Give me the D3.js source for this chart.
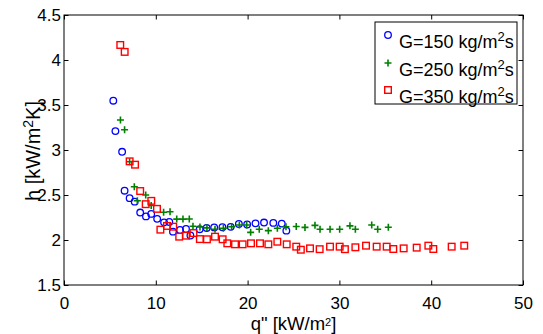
<!DOCTYPE html>
<html>
<head>
<meta charset="utf-8">
<script src="https://cdn.jsdelivr.net/npm/d3@7"></script>
<style>
  html, body { margin: 0; padding: 0; background: #fff; }
  svg { display: block; font-family: "Liberation Sans", Arial, Helvetica, sans-serif; }
</style>
</head>
<body>
<svg id="chart" width="543" height="334"></svg>
<script>
// Heat transfer coefficient h [kW/m²K] versus heat flux q" [kW/m²]
const xTicks = [0, 10, 20, 30, 40, 50];
const xTickLabels = ["0", "10", "20", "30", "40", "50"];
const yTicks = [1.5, 2, 2.5, 3, 3.5, 4, 4.5];
const yTickLabels = ["1.5", "2", "2.5", "3", "3.5", "4", "4.5"];

const seriesNames = ["G=150 kg/m", "G=250 kg/m", "G=350 kg/m"];

// G = 150 kg/m²s
const q150 = [5.37, 5.6, 6.33, 6.6, 7.15, 7.7, 8.3, 8.93, 9.5, 10.15, 10.9, 11.47, 11.87, 12.64,
  13.29, 13.77, 14.78, 15.54, 16.36, 17.26, 18.16, 19.05, 19.95, 20.86, 21.79, 22.8, 23.72, 24.22];
const h150 = [3.548, 3.21, 2.98, 2.548, 2.465, 2.426, 2.305, 2.262, 2.29, 2.235, 2.196, 2.2, 2.093, 2.111,
  2.122, 2.05, 2.12, 2.134, 2.14, 2.142, 2.146, 2.178, 2.172, 2.185, 2.194, 2.19, 2.182, 2.104];

// G = 250 kg/m²s
const q250 = [6.15, 6.6, 7.15, 7.66, 7.99, 8.9, 9.5, 10.85, 11.55, 12.28, 12.96, 13.65, 14.05, 14.81,
  15.57, 16.45, 17.36, 18.26, 19.1, 19.9, 20.33, 21.27, 22.26, 23.24, 24.18, 25.3, 26.25, 27.34,
  27.89, 28.98, 30.03, 31.15, 31.74, 33.52, 34.17, 35.33];
const h250 = [3.333, 3.225, 2.87, 2.592, 2.436, 2.5, 2.384, 2.308, 2.314, 2.232, 2.232, 2.233, 2.152, 2.145,
  2.135, 2.119, 2.13, 2.148, 2.167, 2.167, 2.085, 2.119, 2.104, 2.13, 2.148, 2.15, 2.14, 2.163,
  2.119, 2.119, 2.119, 2.157, 2.119, 2.167, 2.119, 2.141];

// G = 350 kg/m²s
const q350 = [6.13, 6.61, 7.15, 7.74, 8.3, 8.9, 9.51, 10.13, 10.5, 11.22, 11.9, 12.55, 13.29, 14.1,
  14.8, 15.57, 16.45, 17.28, 17.79, 18.63, 19.46, 20.37, 21.35, 22.26, 23.24, 24.26, 25.3, 25.8,
  26.8, 27.85, 28.98, 30.03, 30.6, 31.74, 32.9, 34.06, 35.15, 35.87, 37.0, 38.42, 39.69, 40.23,
  42.23, 43.6];
const h350 = [4.167, 4.09, 2.874, 2.837, 2.544, 2.398, 2.435, 2.346, 2.115, 2.156, 2.148, 2.037, 2.048, 2.077,
  2.01, 2.008, 2.037, 2.008, 1.963, 1.952, 1.952, 1.963, 1.963, 1.952, 1.981, 1.952, 1.926, 1.892,
  1.907, 1.898, 1.926, 1.926, 1.898, 1.919, 1.937, 1.926, 1.926, 1.9, 1.907, 1.915, 1.937, 1.9,
  1.926, 1.937];

const svg = d3.select("#chart");
const plot = { left: 64, right: 523, top: 15, bottom: 285 };

const x = d3.scaleLinear().domain([0, 50]).range([plot.left, plot.right]);
const y = d3.scaleLinear().domain([1.5, 4.5]).range([plot.bottom, plot.top]);

const tickLen = 4.5;
const tickFont = 17;

// axes: inward ticks on all four sides (boxed axes)
const bottomAxis = d3.axisBottom(x).tickValues(xTicks)
  .tickFormat((d, i) => xTickLabels[i]).tickSizeInner(-tickLen).tickSizeOuter(0).tickPadding(12);
const topAxis = d3.axisTop(x).tickValues(xTicks).tickFormat("")
  .tickSizeInner(-tickLen).tickSizeOuter(0);
const leftAxis = d3.axisLeft(y).tickValues(yTicks)
  .tickFormat((d, i) => yTickLabels[i]).tickSizeInner(-tickLen).tickSizeOuter(0).tickPadding(3);
const rightAxis = d3.axisRight(y).tickValues(yTicks).tickFormat("")
  .tickSizeInner(-tickLen).tickSizeOuter(0);

function styleAxis(g) {
  g.select(".domain").remove();
  g.selectAll(".tick line").attr("stroke", "#000").attr("stroke-width", 1);
  g.selectAll(".tick text").attr("fill", "#000")
    .style("font-size", tickFont + "px").style("font-family", "'Liberation Sans', Arial, sans-serif");
}

svg.append("g").attr("transform", `translate(0,${plot.bottom})`).call(bottomAxis).call(styleAxis);
svg.append("g").attr("transform", `translate(0,${plot.top})`).call(topAxis).call(styleAxis);
svg.append("g").attr("transform", `translate(${plot.left},0)`).call(leftAxis).call(styleAxis);
svg.append("g").attr("transform", `translate(${plot.right},0)`).call(rightAxis).call(styleAxis);

svg.append("rect")
  .attr("x", plot.left).attr("y", plot.top)
  .attr("width", plot.right - plot.left).attr("height", plot.bottom - plot.top)
  .attr("fill", "none").attr("stroke", "#000").attr("stroke-width", 1);

// marker drawers
const blue = "#0000ff", green = "#008000", red = "#ff0000";

function drawCircle(g, cx, cy) {
  g.append("circle").attr("cx", cx).attr("cy", cy).attr("r", 3.3)
    .attr("fill", "none").attr("stroke", blue).attr("stroke-width", 1.3);
}
function drawPlus(g, cx, cy) {
  const s = 3.5;
  g.append("path").attr("d", `M${cx - s},${cy}H${cx + s}M${cx},${cy - s}V${cy + s}`)
    .attr("fill", "none").attr("stroke", green).attr("stroke-width", 1.6);
}
function drawSquare(g, cx, cy) {
  const s = 3.3;
  g.append("rect").attr("x", cx - s).attr("y", cy - s).attr("width", 2 * s).attr("height", 2 * s)
    .attr("fill", "none").attr("stroke", red).attr("stroke-width", 1.4);
}

const marks = svg.append("g");
const g150 = marks.append("g");
q150.forEach((q, i) => drawCircle(g150, x(q), y(h150[i])));
const g250 = marks.append("g");
q250.forEach((q, i) => drawPlus(g250, x(q), y(h250[i])));
const g350 = marks.append("g");
q350.forEach((q, i) => drawSquare(g350, x(q), y(h350[i])));

// text with a superscript "2" followed by a tail on the normal baseline
function supText(sel, head, tail, size, supSize, rise) {
  sel.style("font-size", size + "px").attr("fill", "#000");
  sel.append("tspan").text(head);
  sel.append("tspan").attr("dy", -rise).style("font-size", supSize + "px").text("2");
  sel.append("tspan").attr("dy", rise).style("font-size", size + "px").text(tail);
}

// axis titles
supText(svg.append("text")
  .attr("x", (plot.left + plot.right) / 2).attr("y", 330)
  .attr("text-anchor", "middle"), 'q" [kW/m', "]", 18.5, 11, 4.5);

supText(svg.append("text")
  .attr("transform", "translate(40,151) rotate(-90)")
  .attr("text-anchor", "middle"), "h [kW/m", "K]", 20, 14, 7);

// legend
const legend = svg.append("g");
legend.append("rect").attr("x", 375).attr("y", 22).attr("width", 142).attr("height", 82)
  .attr("fill", "#fff").attr("stroke", "#000").attr("stroke-width", 1);

const legendDrawers = [drawCircle, drawPlus, drawSquare];
const rowMarkY = [35, 63, 90];
const rowTextY = [48, 76, 103];
seriesNames.forEach((name, i) => {
  legendDrawers[i](legend, 388, rowMarkY[i]);
  supText(legend.append("text").attr("x", 399).attr("y", rowTextY[i]), name, "s", 18, 13, 7);
});
</script>
</body>
</html>
